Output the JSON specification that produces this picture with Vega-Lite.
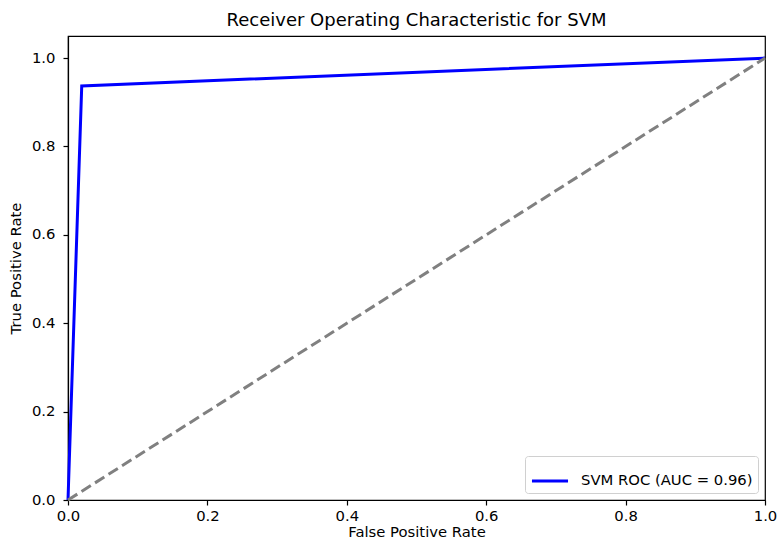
{
  "$schema": "https://vega.github.io/schema/vega-lite/v6.json",
  "width": 697,
  "height": 464,
  "autosize": {"type": "none"},
  "padding": {"left": 68, "top": 36, "right": 12, "bottom": 42},
  "background": "white",
  "config": {
    "font": "DejaVu Sans",
    "view": {"stroke": "black", "strokeWidth": 1.2},
    "axis": {
      "grid": false,
      "domainColor": "black",
      "domainWidth": 1.2,
      "tickColor": "black",
      "tickWidth": 1.2,
      "tickSize": 5,
      "labelColor": "black",
      "titleColor": "black",
      "labelFontSize": 14.8,
      "titleFontSize": 14.8,
      "titleFontWeight": "normal"
    }
  },
  "title": {"text": "Receiver Operating Characteristic for SVM", "fontSize": 18, "fontWeight": "normal", "color": "black", "offset": 6},
  "datasets": {
    "roc": [
      {"fpr": 0.0, "tpr": 0.0, "series": "SVM ROC (AUC = 0.96)"},
      {"fpr": 0.0197, "tpr": 0.937, "series": "SVM ROC (AUC = 0.96)"},
      {"fpr": 1.0, "tpr": 1.0, "series": "SVM ROC (AUC = 0.96)"}
    ],
    "diag": [
      {"fpr": 0.0, "tpr": 0.0},
      {"fpr": 1.0, "tpr": 1.0}
    ]
  },
  "layer": [
    {
      "data": {"name": "roc"},
      "mark": {"type": "line", "strokeWidth": 3},
      "encoding": {
        "x": {"field": "fpr", "type": "quantitative", "scale": {"domain": [0, 1], "nice": false, "zero": false},
              "axis": {"title": "False Positive Rate", "values": [0, 0.2, 0.4, 0.6, 0.8, 1.0], "format": ".1f", "labelFlush": false, "labelPadding": 3, "titlePadding": 2}},
        "y": {"field": "tpr", "type": "quantitative", "scale": {"domain": [0, 1.05], "nice": false, "zero": false},
              "axis": {"title": "True Positive Rate", "values": [0, 0.2, 0.4, 0.6, 0.8, 1.0], "format": ".1f", "labelFlush": false, "labelPadding": 8, "titlePadding": 8}},
        "color": {"field": "series", "type": "nominal",
                  "scale": {"domain": ["SVM ROC (AUC = 0.96)"], "range": ["blue"]},
                  "legend": {"title": null, "orient": "bottom-right", "offset": 7, "symbolType": "stroke", "symbolSize": 1300, "symbolStrokeWidth": 3,
                             "labelFontSize": 14.8, "labelLimit": 400, "labelColor": "black", "labelOffset": 11, "strokeColor": "#d0d0d0", "fillColor": "white", "padding": 5, "cornerRadius": 3}},
        "order": {"field": "fpr", "type": "quantitative"}
      }
    },
    {
      "data": {"name": "diag"},
      "mark": {"type": "line", "strokeWidth": 3, "color": "gray", "strokeDash": [11, 5]},
      "encoding": {
        "x": {"field": "fpr", "type": "quantitative"},
        "y": {"field": "tpr", "type": "quantitative"}
      }
    }
  ]
}
